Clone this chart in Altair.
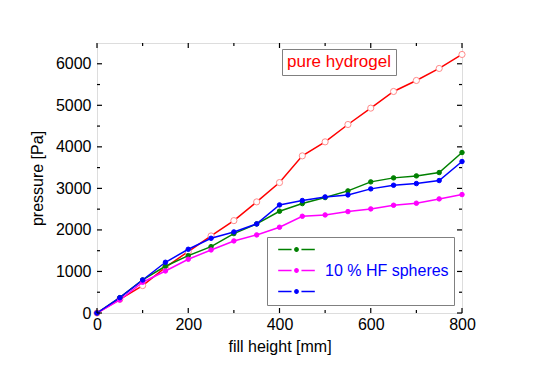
import altair as alt
import pandas as pd

# ---------------- data ----------------
fill_height = [0, 50, 100, 150, 200, 250, 300, 350, 400, 450, 500, 550, 600, 650, 700, 750, 800]
pure_hydrogel = [0, 330, 660, 1100, 1480, 1855, 2224, 2675, 3140, 3783, 4120, 4538, 4932, 5333, 5598, 5887, 6224]
series_green = [0, 369, 795, 1125, 1381, 1598, 1912, 2145, 2450, 2634, 2779, 2940, 3157, 3253, 3301, 3381, 3863]
series_magenta = [0, 313, 740, 1012, 1294, 1518, 1735, 1880, 2065, 2329, 2361, 2441, 2506, 2594, 2643, 2747, 2851]
series_blue = [0, 369, 795, 1221, 1534, 1799, 1952, 2145, 2602, 2707, 2795, 2843, 2988, 3076, 3116, 3189, 3647]

series_names = ["series 1", "10 % HF spheres", "series 3"]
series_colors = ["#008000", "#ff00ff", "#0000ff"]
pure_name = "pure hydrogel"

x_major = [0, 200, 400, 600, 800]
x_minor = [100, 300, 500, 700]
y_major = [0, 1000, 2000, 3000, 4000, 5000, 6000]
y_minor = [500, 1500, 2500, 3500, 4500, 5500]

# ---------------- tables ----------------
red_df = pd.DataFrame({"h": fill_height, "p": pure_hydrogel, "series": pure_name})
rows = []
for name, vals in zip(series_names, [series_green, series_magenta, series_blue]):
    for h, p in zip(fill_height, vals):
        rows.append({"h": h, "p": p, "series": name})
df = pd.DataFrame(rows)

W, H = 365, 270
FONT = "Liberation Sans"
xscale = alt.Scale(domain=[0, 800], nice=False, zero=False)
yscale = alt.Scale(domain=[0, 6500], nice=False, zero=False)

x_main = alt.Axis(orient="bottom", values=x_major, ticks=False, domain=False, grid=False,
                  format="d", labelFlush=False, labelOverlap=False,
                  labelFontSize=16, labelColor="black", labelPadding=3,
                  labelFont=FONT, title="fill height [mm]", titleFontSize=16,
                  titleFontWeight="normal", titleColor="black", titleFont=FONT,
                  titlePadding=6)
y_main = alt.Axis(orient="left", values=y_major, ticks=False, domain=False, grid=False,
                  format="d", labelFlush=False, labelOverlap=False,
                  labelFontSize=16, labelColor="black", labelPadding=6,
                  labelFont=FONT, title="pressure [Pa]", titleFontSize=16,
                  titleFontWeight="normal", titleColor="black", titleFont=FONT,
                  titlePadding=10)


# every layer carries the same axis definition, so they merge into one axis per side
def X():
    return alt.X("h:Q", scale=xscale, axis=x_main)


def Y():
    return alt.Y("p:Q", scale=yscale, axis=y_main)


# inward tick marks on all four sides (positions through the axis scales)
def x_ticks(values, y0, y1):
    return alt.Chart(pd.DataFrame({"h": values})).mark_rule(
        color="black", strokeWidth=1.2).encode(
        x=X(), y=alt.value(y0), y2=alt.value(y1))


def y_ticks(values, x0, x1):
    return alt.Chart(pd.DataFrame({"p": values})).mark_rule(
        color="black", strokeWidth=1.2).encode(
        y=Y(), x=alt.value(x0), x2=alt.value(x1))


ticks = [
    x_ticks(x_major, H, H - 5), x_ticks(x_major, 0, 5),
    x_ticks(x_minor, H, H - 3), x_ticks(x_minor, 0, 3),
    y_ticks(y_major, 0, 5), y_ticks(y_major, W, W - 5),
    y_ticks(y_minor, 0, 3), y_ticks(y_minor, W, W - 3),
]

color_scale = alt.Scale(domain=series_names, range=series_colors)
legend_path = ("M-1,0H-0.27M0.27,0H1"
               "M-0.09,0A0.09,0.09,0,1,0,0.09,0A0.09,0.09,0,1,0,-0.09,0Z")
series_legend = alt.Legend(orient="none", legendX=170, legendY=194, title=None,
                           symbolType=legend_path, symbolSize=1340, symbolStrokeWidth=1.5,
                           symbolOffset=5, labelOffset=9, clipHeight=15, rowPadding=4,
                           labelFontSize=16, labelColor="#0000ff", labelFont=FONT,
                           labelExpr="datum.label == '10 % HF spheres' ? datum.label : ''",
                           padding=5, strokeColor="#808080")

# red series (pure hydrogel): its boxed label is a legend with a title only
red_line = alt.Chart(red_df).mark_line(color="#ff0000", strokeWidth=1.5).encode(
    x=X(), y=Y(), order="h:Q")
red_pts = alt.Chart(red_df).mark_point(filled=True, fill="white", stroke="#ff8a8a",
                                       size=38, strokeWidth=1, opacity=1).encode(
    x=X(), y=Y(),
    shape=alt.Shape("series:N", scale=alt.Scale(domain=[pure_name], range=["circle"]),
                    legend=alt.Legend(orient="none", legendX=185, legendY=6,
                                      title=pure_name, titleColor="#ff0000",
                                      titleFontSize=17, titleFontWeight="normal",
                                      titleFont=FONT, titlePadding=0, values=[],
                                      padding=5, strokeColor="#808080")),
)

lines = alt.Chart(df).mark_line(strokeWidth=1.5).encode(
    x=X(), y=Y(),
    stroke=alt.Stroke("series:N", scale=color_scale, legend=series_legend),
    detail="series:N",
    order="h:Q",
)
pts = alt.Chart(df).mark_point(filled=True, size=20, strokeWidth=1, opacity=1).encode(
    x=X(), y=Y(),
    fill=alt.Fill("series:N", scale=color_scale, legend=series_legend),
    stroke=alt.Stroke("series:N", scale=color_scale, legend=series_legend),
)

chart = alt.layer(red_line, red_pts, lines, pts, *ticks).properties(
    width=W, height=H,
    autosize=alt.AutoSizeParams(type="none"),
    padding={"left": 89, "top": 35, "right": 68, "bottom": 55},
    background="white",
).configure_view(stroke="black", strokeWidth=1.5).configure(font=FONT)

chart.save("out.html", embed_options={"renderer": "svg", "actions": False})
